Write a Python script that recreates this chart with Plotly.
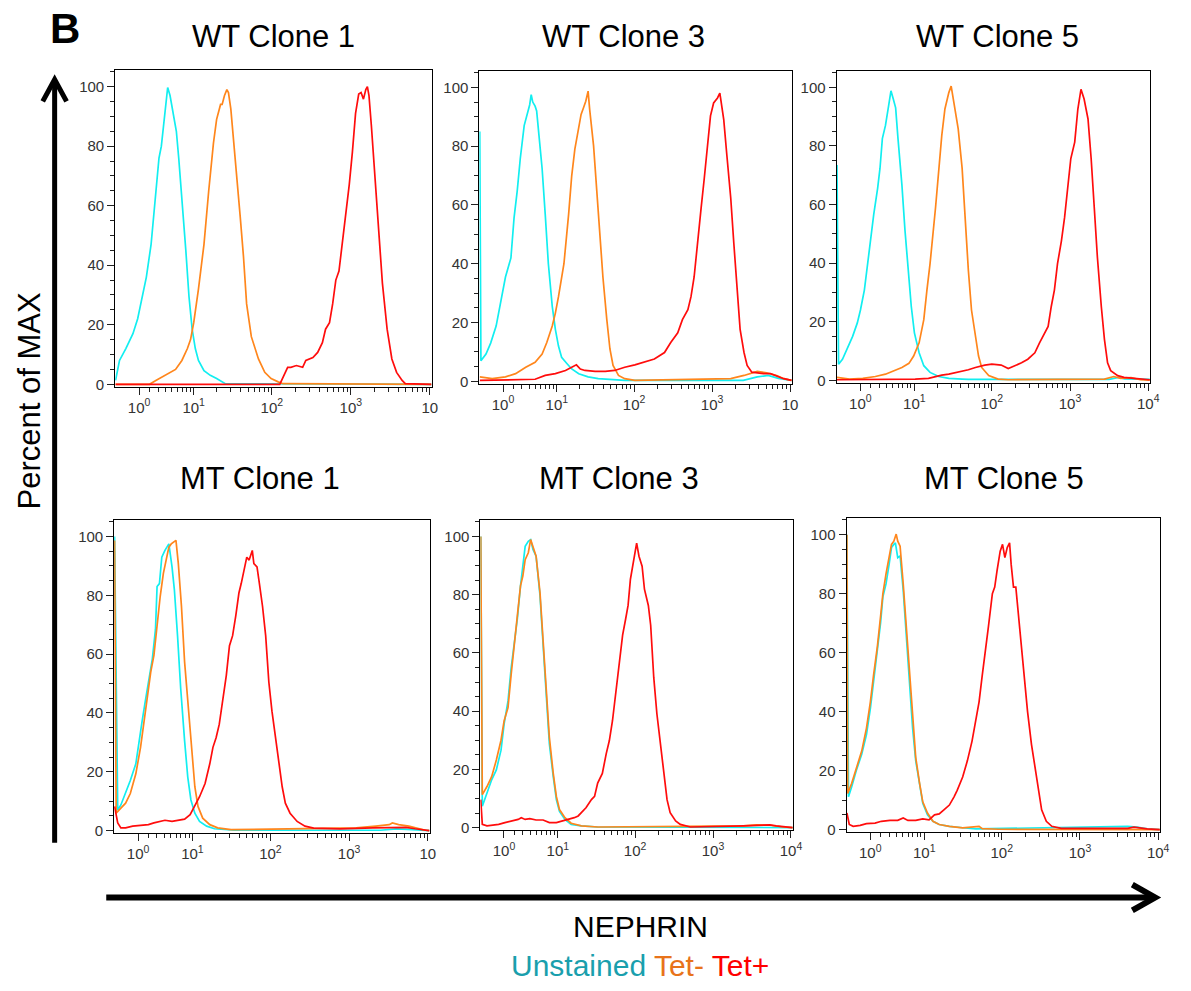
import numpy as np
import plotly.graph_objects as go

W, H = 1191, 991          # target picture size
MARGIN = 8                # default body margin of the html page
FW, FH = W - 2 * MARGIN, H - 2 * MARGIN   # figure size so the page fits exactly

# ---------------- data ----------------
panel_titles = ["WT Clone 1", "WT Clone 3", "WT Clone 5", "MT Clone 1", "MT Clone 3", "MT Clone 5"]
series_names = ["Unstained", "Tet-", "Tet+"]
decade_values = [1, 10, 100, 1000, 10000]
decade_exponents = ["0", "1", "2", "3", "4"]
y_major = [0, 20, 40, 60, 80, 100]
y_minor = [5, 10, 15, 25, 30, 35, 45, 50, 55, 65, 70, 75, 85, 90, 95, 105]

# x in display decades (biexponential display channel), y in % of max
wt1_unst_x = [0.02,0.07,0.15,0.24,0.30,0.36,0.41,0.47,0.53,0.57,0.60,0.65,0.68,0.71,0.76,0.79,0.82,0.86,0.91,0.95,0.99,1.03,1.07,1.14,1.22,1.30,1.37,1.41,4.02]
wt1_unst_y = [1.3,8,12,17,22,29.5,36,47,66,76,80,91,99.7,97,90,85,76,63,45,29.5,18.5,12,8,4.6,3,1.9,0.8,0.2,0]
wt1_tetm_x = [0.02,0.45,0.53,0.65,0.78,0.86,0.93,0.97,1.01,1.07,1.14,1.20,1.26,1.30,1.35,1.37,1.40,1.43,1.45,1.48,1.51,1.55,1.60,1.64,1.68,1.74,1.83,1.91,1.99,2.08,2.14,4.02]
wt1_tetm_y = [0,0,1.3,3,5,8,12,15,20.7,32,47,65,81,89,94,94,97,99,98,92.5,84,72.6,56,43,27,16,8.5,4,1.9,0.8,0.2,0]
wt1_tetp_x = [0.02,2.10,2.20,2.24,2.31,2.39,2.43,2.52,2.58,2.64,2.68,2.73,2.77,2.81,2.85,2.89,2.94,2.98,3.02,3.06,3.10,3.13,3.16,3.19,3.21,3.23,3.26,3.31,3.35,3.40,3.46,3.52,3.58,3.65,3.69,4.02]
wt1_tetp_y = [0,0,5.7,5.7,6.3,5.7,8,9,10.7,14,18.5,20.7,27,35,38,47,57,67,78,91,97.5,98,95.8,99,100,97,87,67,51.6,34,18.5,8.5,4,1.3,0.2,0]

wt3_unst_x = [0.02,0.035,0.10,0.16,0.23,0.29,0.35,0.42,0.46,0.50,0.54,0.59,0.63,0.66,0.68,0.70,0.73,0.75,0.78,0.82,0.86,0.90,0.95,0.99,1.03,1.07,1.14,1.20,1.29,1.41,1.54,1.71,1.88,3.40,3.58,3.72,3.85,4.02]
wt3_unst_y = [85,7,9.3,13,18.8,26.6,35.5,42,55.6,64.6,75.8,87,91,94,97.5,95,93.6,92,83.6,72.4,56.8,40,25.5,17.7,12,8.2,6,4.2,2.6,1.5,0.9,0.7,0.3,0.3,1.5,2,1,0.3]
wt3_tetm_x = [0.02,0.18,0.35,0.48,0.61,0.73,0.82,0.88,0.95,0.99,1.03,1.10,1.16,1.20,1.24,1.29,1.32,1.35,1.38,1.41,1.43,1.48,1.52,1.56,1.60,1.65,1.69,1.73,1.80,1.88,2.01,3.24,3.41,3.58,3.70,3.83,3.92,4.02]
wt3_tetm_y = [1.5,0.9,1.5,2.6,4.8,6.5,9.3,13.2,18.8,23.2,28.8,40,56.8,70,79,85.8,90.8,93,95.3,98.7,92.5,80.2,64.6,50,35.5,21,11,5.4,2,0.9,0.3,0.9,2,3.4,2.9,2,0.9,0.3]
wt3_tetp_x = [0.02,0.73,0.86,0.99,1.12,1.20,1.26,1.31,1.37,1.50,1.63,1.75,1.88,2.01,2.13,2.26,2.39,2.47,2.56,2.62,2.69,2.73,2.77,2.81,2.86,2.90,2.94,2.98,3.02,3.07,3.10,3.12,3.15,3.19,3.24,3.28,3.32,3.36,3.41,3.45,3.51,3.58,3.66,3.75,3.83,3.92,4.02]
wt3_tetp_y = [0.3,0.7,2,2.6,3.7,4.8,5.6,4.2,3.7,3.4,3.4,3.7,4.8,5.6,6.5,7.6,9.8,13.2,16.5,21,24.4,28.8,35.5,46.7,59,69,80.2,90.3,94.7,96.4,98,94.7,89,76.9,62.3,46.7,31,17.7,9.8,5.4,3.1,2.9,2.6,2.6,1.8,0.9,0.3]

wt5_unst_x = [0.02,0.04,0.09,0.15,0.22,0.28,0.32,0.37,0.41,0.45,0.49,0.54,0.57,0.60,0.64,0.68,0.71,0.74,0.77,0.80,0.85,0.89,0.93,0.97,1.01,1.07,1.13,1.21,1.32,1.45,1.62,1.70,3.50,3.62,3.70,4.02]
wt5_unst_y = [73.5,5.5,7.2,10.6,15,19.6,24,30.8,39.8,48.8,56.6,65.6,72.4,82.5,87,93.7,98.8,96,93,82.5,66.7,51,37.5,25.2,16.2,9.4,5,2.7,1.3,0.7,0.4,0.3,0.3,1,0.5,0.3]
wt5_tetm_x = [0.02,0.18,0.35,0.51,0.64,0.77,0.85,0.94,1.00,1.07,1.13,1.17,1.21,1.28,1.32,1.36,1.40,1.45,1.48,1.51,1.54,1.57,1.62,1.66,1.70,1.74,1.79,1.83,1.87,1.96,2.08,2.21,3.44,3.56,3.65,3.78,3.90,4.02]
wt5_tetm_y = [1,0.4,0.7,1.3,2.1,3.6,4.4,5.8,8.3,12.8,20.7,30.8,39.8,58.9,72.4,83.6,92.6,98.2,100.4,96,91.5,85.8,72.4,54.4,37.5,24,15,8.3,4.4,1.6,0.4,0.2,0.4,1.3,0.7,0.9,0.2,0.1]
wt5_tetp_x = [0.02,1.02,1.19,1.28,1.36,1.45,1.57,1.70,1.79,1.91,2.00,2.12,2.21,2.29,2.38,2.46,2.55,2.61,2.68,2.72,2.76,2.80,2.84,2.89,2.93,2.97,3.01,3.06,3.10,3.14,3.18,3.23,3.27,3.31,3.35,3.40,3.44,3.48,3.52,3.61,3.69,3.82,4.02]
wt5_tetp_y = [0.2,0.4,0.7,1.3,1.8,2.1,2.7,3.6,4.4,5.2,5.5,5.2,4,4.9,6,7.2,9.4,12.8,16.2,18.4,25.2,30.8,39.8,47.6,55.5,66.7,75.7,81.3,92.6,99.3,96,89.2,75.7,58.9,42,25.2,14,6,3.3,1.6,1,0.7,0.2]

mt1_unst_x = [0.02,0.06,0.10,0.16,0.22,0.29,0.33,0.37,0.41,0.45,0.50,0.54,0.56,0.59,0.62,0.66,0.68,0.71,0.75,0.78,0.82,0.86,0.91,0.95,0.99,1.04,1.10,1.19,1.29,1.42,1.54,3.40,3.60,3.80,4.02]
mt1_unst_y = [100,7,8.7,12.6,17,22.7,30.5,37.2,43.9,50.6,58.4,68.5,83,84,93,95.3,96.4,97.5,89.7,81.9,66.3,48.4,30.5,18.2,10.4,5.9,3.1,1.5,0.6,0.3,0.1,0.1,0.6,0.3,0]
mt1_tetm_x = [0.02,0.04,0.10,0.16,0.22,0.29,0.35,0.41,0.48,0.52,0.56,0.60,0.64,0.68,0.71,0.74,0.77,0.80,0.83,0.87,0.91,0.96,1.00,1.04,1.08,1.14,1.23,1.33,1.50,2.67,3.09,3.34,3.51,3.55,3.63,3.76,3.84,3.97,4.02]
mt1_tetm_y = [98.7,5.9,7.6,9.3,12.6,19.3,28.3,40.6,54,59.6,70.7,79.7,87.5,93,96.4,97.5,98.1,98.7,90.8,76.3,57.3,40.6,26,14.9,8.2,4.2,2,0.9,0.3,0.6,0.9,1.5,2,2.6,2,1.5,0.9,0.1,0]
mt1_tetp_x = [0.02,0.06,0.10,0.16,0.25,0.35,0.45,0.52,0.60,0.66,0.75,0.83,0.91,0.98,1.04,1.10,1.17,1.23,1.27,1.31,1.35,1.40,1.44,1.48,1.52,1.56,1.60,1.63,1.67,1.70,1.73,1.75,1.77,1.79,1.83,1.86,1.90,1.94,1.98,2.02,2.06,2.11,2.15,2.19,2.25,2.34,2.44,2.55,2.88,3.30,3.51,3.72,3.84,3.97,4.02]
mt1_tetp_y = [8.2,2.6,0.9,0.9,1.5,1.7,2,2.6,3.1,3.5,3.1,3.5,3.9,5.4,8.2,11.5,16,22.7,28.3,31.6,36.1,46.1,52.8,62.9,66.3,73,80.8,84.1,88.6,93,92,93.6,95.3,90.8,89.7,84.1,76.3,66.3,50.6,40.6,32.7,22.7,14.9,9.3,5.9,3.1,1.5,0.8,0.6,0.9,1.1,1.1,0.6,0.1,0]

mt3_unst_x = [0.02,0.04,0.10,0.16,0.22,0.28,0.32,0.37,0.41,0.45,0.49,0.53,0.56,0.59,0.63,0.66,0.69,0.73,0.78,0.82,0.86,0.90,0.95,0.99,1.03,1.10,1.18,1.31,1.52,4.02]
mt3_unst_y = [100,7.3,11.9,16.4,19.8,26.6,35.6,43.5,54.8,63.8,71.8,83,91,96.6,98.3,98.9,95.5,93.2,79.7,62.7,45.8,28.8,17.5,9.6,5.6,2.8,1.1,0.6,0.2,0]
mt3_tetm_x = [0.02,0.04,0.10,0.16,0.22,0.28,0.32,0.37,0.41,0.45,0.49,0.53,0.56,0.59,0.63,0.66,0.69,0.73,0.78,0.82,0.86,0.90,0.95,0.99,1.03,1.10,1.18,1.31,1.52,3.39,3.56,3.73,3.90,4.02]
mt3_tetm_y = [100,11.3,14.1,17.5,23.2,30,36.7,41.2,52.5,63.8,72.9,83,86.4,92,94.4,98.9,96.6,93.2,80.8,63.8,46.9,31.1,18.6,10.7,6.2,3.4,1.5,0.6,0.2,0.6,0.9,0.8,0.2,0]
mt3_tetp_x = [0.02,0.04,0.10,0.16,0.25,0.33,0.42,0.50,0.54,0.59,0.65,0.73,0.82,0.90,0.99,1.07,1.16,1.22,1.27,1.31,1.37,1.44,1.48,1.52,1.55,1.58,1.63,1.67,1.71,1.75,1.80,1.84,1.88,1.91,1.94,1.97,2.00,2.02,2.05,2.09,2.12,2.17,2.20,2.24,2.28,2.33,2.37,2.41,2.45,2.52,2.58,2.71,3.39,3.56,3.73,3.81,3.98,4.02]
mt3_tetp_y = [9.6,1.1,0.6,0.8,1.1,1.7,2.3,2.8,3.4,2.8,3.1,2.6,2.6,1.7,1.7,2.3,2.8,3.4,4,5.1,6.8,9.6,10.7,15.3,16.9,18.6,25.4,29.9,36.7,45.8,57.1,66.1,71.8,76.3,85.3,89.8,94.4,97.7,93.2,89.8,81.9,76.3,69.5,51.4,39,27.7,17.5,9.6,5.1,2.3,1.1,0.2,0.6,0.8,0.9,0.6,0.2,0]

mt5_unst_x = [0.02,0.04,0.08,0.14,0.21,0.27,0.32,0.36,0.41,0.45,0.48,0.52,0.56,0.59,0.62,0.64,0.67,0.70,0.74,0.78,0.82,0.86,0.90,0.95,0.99,1.05,1.12,1.20,1.33,1.50,1.67,3.61,3.73,3.86,4.02]
mt5_unst_y = [100,11.1,14.4,20,25.6,32.2,41.1,50,60,70,78.9,83.3,90,95.6,96.7,97.2,92.2,92.8,81.1,65.6,50,34.4,23.3,14.4,8.9,5,2.8,1.7,1.1,0.6,0.2,1.1,0.8,0.2,0]
mt5_tetm_x = [0.02,0.03,0.08,0.14,0.21,0.27,0.32,0.36,0.41,0.45,0.48,0.52,0.56,0.59,0.62,0.65,0.67,0.70,0.74,0.78,0.82,0.86,0.90,0.95,0.99,1.05,1.12,1.20,1.33,1.50,1.71,1.75,1.96,4.02]
mt5_tetm_y = [100,12.2,15.6,21.1,26.7,34.4,43.3,52.2,62.2,72.2,80,86.7,92.2,96.7,97.8,100.2,97.8,96.1,83.3,67.8,52.2,36.7,24.4,15.6,9.4,5.6,2.8,1.7,1.1,0.6,1.1,0.3,0.1,0]
mt5_tetp_x = [0.02,0.05,0.10,0.19,0.27,0.38,0.46,0.57,0.67,0.74,0.80,0.90,0.99,1.07,1.14,1.20,1.26,1.33,1.39,1.43,1.50,1.56,1.62,1.67,1.71,1.75,1.79,1.83,1.88,1.91,1.94,1.98,2.01,2.04,2.07,2.10,2.12,2.15,2.18,2.21,2.25,2.29,2.33,2.38,2.43,2.47,2.51,2.57,2.64,2.76,3.61,3.69,3.86,4.02]
mt5_tetp_y = [5.6,1.7,1.1,1.4,2,2.2,2.8,3.1,3.1,3.9,3.1,3.1,3.6,3.3,5,5.3,6.7,8.3,11.1,13.3,17.8,23.3,30,36.7,43.3,52.2,60,68.9,80,82.2,87.8,94.4,96.7,92.2,95.6,97.2,90,82.2,82.2,73.3,62.2,50,40,28.9,20,12.2,6.7,2.8,1.1,0.4,0.4,0.8,0.2,0]

panel_curves = [
    [(wt1_unst_x, wt1_unst_y), (wt1_tetm_x, wt1_tetm_y), (wt1_tetp_x, wt1_tetp_y)],
    [(wt3_unst_x, wt3_unst_y), (wt3_tetm_x, wt3_tetm_y), (wt3_tetp_x, wt3_tetp_y)],
    [(wt5_unst_x, wt5_unst_y), (wt5_tetm_x, wt5_tetm_y), (wt5_tetp_x, wt5_tetp_y)],
    [(mt1_unst_x, mt1_unst_y), (mt1_tetm_x, mt1_tetm_y), (mt1_tetp_x, mt1_tetp_y)],
    [(mt3_unst_x, mt3_unst_y), (mt3_tetm_x, mt3_tetm_y), (mt3_tetp_x, mt3_tetp_y)],
    [(mt5_unst_x, mt5_unst_y), (mt5_tetm_x, mt5_tetm_y), (mt5_tetp_x, mt5_tetp_y)],
]
for pc in panel_curves:
    for cx, cy in pc:
        assert len(cx) == len(cy), (len(cx), len(cy))

# ---------------- style / layout ----------------
line_colors = ["#12eef0", "#ff861c", "#ff0c0c"]
legend_colors = ["#1a9fad", "#e8731a", "#ff0000"]
FONT = "Liberation Sans, Arial, sans-serif"

# plot boxes in target pixels: left, right, top, bottom
boxes = [
    (116, 435, 70, 389), (483, 798, 71, 386), (843, 1159, 71, 385),
    (115, 433, 523, 838), (484, 799, 523, 835), (853, 1169, 521, 837),
]
truncated_last = [True, True, False, True, False, False]
title_pos = [(276, 37), (628, 37), (1005, 37), (262, 481), (624, 481), (1012, 481)]

W_BIEX = 1.5


def biex(v):
    v = np.asarray(v, dtype=float)
    return np.log10((v + np.sqrt(v * v + 4 * W_BIEX ** 2)) / 2)


major_pos = list(biex(decade_values))
minor_pos = [float(biex(m * 10 ** k)) for k in range(4) for m in range(2, 10)]


def px(x):
    return (x - MARGIN) / FW


def py(y):
    return 1 - (y - MARGIN) / FH


fig = go.Figure()
layout = {}
for i, (box, curves) in enumerate(zip(boxes, panel_curves)):
    n = "" if i == 0 else str(i + 1)
    for (cx, cy), name, col in zip(curves, series_names, line_colors):
        fig.add_trace(go.Scatter(x=cx, y=cy, mode="lines", name=name,
                                 line=dict(color=col, width=1.7),
                                 xaxis="x" + n, yaxis="y" + n, showlegend=False))
    l, r, t, b = box
    ticktext = ["10<sup>%s</sup>" % e for e in decade_exponents]
    if truncated_last[i]:
        ticktext[-1] = "10"
    common = dict(showline=True, linecolor="black", linewidth=1, mirror=True,
                  showgrid=False, zeroline=False, ticks="outside",
                  tickcolor="#222", tickwidth=1, ticklen=7,
                  tickfont=dict(family=FONT, size=15, color="#333"))
    layout["xaxis" + n] = dict(domain=[px(l), px(r)], anchor="y" + n,
                               range=[0.015, 4.025], tickmode="array",
                               tickvals=major_pos, ticktext=ticktext,
                               minor=dict(tickmode="array", tickvals=minor_pos,
                                          ticks="outside", ticklen=4,
                                          tickcolor="#222", showgrid=False),
                               **common)
    layout["yaxis" + n] = dict(domain=[py(b), py(t)], anchor="x" + n,
                               range=[-0.8, 105.7], tickmode="array",
                               tickvals=y_major,
                               minor=dict(tickmode="array", tickvals=y_minor,
                                          ticks="outside", ticklen=4,
                                          tickcolor="#222", showgrid=False),
                               **common)

annotations = []
for (tx, ty), title in zip(title_pos, panel_titles):
    annotations.append(dict(x=px(tx), y=py(ty), xref="paper", yref="paper",
                            text=title, showarrow=False, xanchor="center",
                            yanchor="middle",
                            font=dict(family=FONT, size=31, color="black")))
annotations.append(dict(x=px(65), y=py(29), xref="paper", yref="paper",
                        text="<b>B</b>", showarrow=False, xanchor="center",
                        yanchor="middle",
                        font=dict(family=FONT, size=42, color="black")))
annotations.append(dict(x=px(30), y=py(403), xref="paper", yref="paper",
                        text="Percent of MAX", textangle=-90, showarrow=False,
                        xanchor="center", yanchor="middle",
                        font=dict(family=FONT, size=31, color="black")))
annotations.append(dict(x=px(645), y=py(932), xref="paper", yref="paper",
                        text="NEPHRIN", showarrow=False, xanchor="center",
                        yanchor="middle",
                        font=dict(family=FONT, size=30, color="black")))
legend_text = " ".join("<span style='color:%s'>%s</span>" % (c, s)
                       for c, s in zip(legend_colors, series_names))
annotations.append(dict(x=px(645), y=py(971), xref="paper", yref="paper",
                        text=legend_text, showarrow=False, xanchor="center",
                        yanchor="middle",
                        font=dict(family=FONT, size=30, color="black")))


def ppath(points):
    return "M " + " L ".join("%f,%f" % (px(a), py(b)) for a, b in points)


shapes = [
    dict(type="line", xref="paper", yref="paper", x0=px(55), y0=py(848),
         x1=px(55), y1=py(81), line=dict(color="black", width=5)),
    dict(type="path", xref="paper", yref="paper",
         path=ppath([(43, 102), (55, 80), (67, 102)]),
         line=dict(color="black", width=5)),
    dict(type="line", xref="paper", yref="paper", x0=px(107), y0=py(903),
         x1=px(1162), y1=py(903), line=dict(color="black", width=6)),
    dict(type="path", xref="paper", yref="paper",
         path=ppath([(1141, 890), (1164, 903), (1141, 916)]),
         line=dict(color="black", width=6)),
]

fig.update_layout(width=FW, height=FH, margin=dict(l=0, r=0, t=0, b=0),
                  paper_bgcolor="white", plot_bgcolor="white",
                  annotations=annotations, shapes=shapes, showlegend=False,
                  **layout)
fig.write_html("out.html")
